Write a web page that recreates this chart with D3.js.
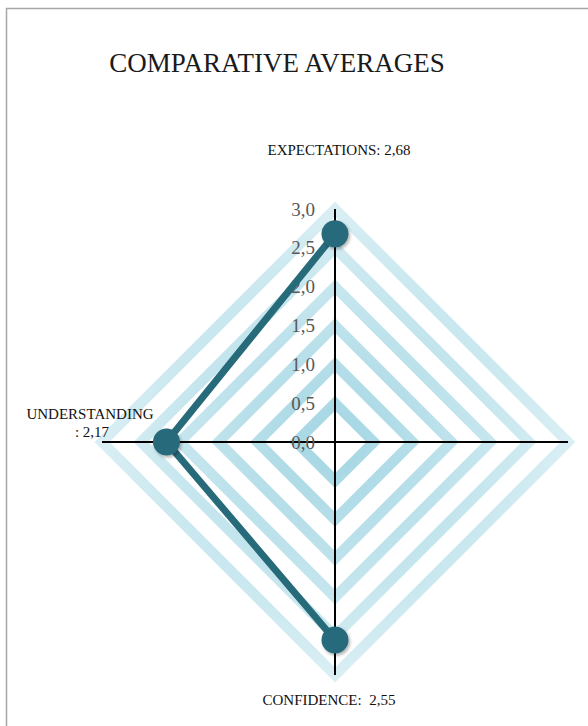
<!DOCTYPE html>
<html>
<head>
<meta charset="utf-8">
<script src="https://cdn.jsdelivr.net/npm/d3@7"></script>
<style>
  html, body { margin: 0; padding: 0; background: #fff; }
  svg { display: block; }
</style>
</head>
<body>
<script>
// ---- data ----
const title = "COMPARATIVE AVERAGES";
const categories = ["EXPECTATIONS", "", "CONFIDENCE", "UNDERSTANDING"];
const values = [2.68, null, 2.55, 2.17];
const valueLabels = ["2,68", "", "2,55", "2,17"];
const gridLevels = [0.5, 1.0, 1.5, 2.0, 2.5, 3.0];
const tickValues = [0, 0.5, 1.0, 1.5, 2.0, 2.5, 3.0];
const tickLabels = ["0,0", "0,5", "1,0", "1,5", "2,0", "2,5", "3,0"];

const W = 588, H = 726;
const cx = 335, cy = 442;
const serif = "'Liberation Serif', 'DejaVu Serif', serif";

const svg = d3.select("body").append("svg").attr("width", W).attr("height", H);
const defs = svg.append("defs");

const grad = defs.append("radialGradient")
  .attr("id", "ringGrad").attr("gradientUnits", "userSpaceOnUse")
  .attr("cx", cx).attr("cy", cy).attr("r", 245);
grad.append("stop").attr("offset", "0%").attr("stop-color", "#a3d6e3");
grad.append("stop").attr("offset", "100%").attr("stop-color", "#dcf0f5");

const shadow = defs.append("filter").attr("id", "dotShadow")
  .attr("x", "-50%").attr("y", "-50%").attr("width", "200%").attr("height", "200%");
shadow.append("feDropShadow").attr("dx", 1.5).attr("dy", 2).attr("stdDeviation", 1.5)
  .attr("flood-color", "#000").attr("flood-opacity", 0.3);

// frame
svg.append("path")
  .attr("d", `M6.5,${H} L6.5,8.5 L${W},8.5`)
  .attr("fill", "none").attr("stroke", "#a6a6a6").attr("stroke-width", 1.5);

// title
svg.append("text").attr("x", 277).attr("y", 72)
  .attr("text-anchor", "middle")
  .attr("font-family", serif).attr("font-size", 27).attr("fill", "#1a1a1a")
  .text(title);

const r = d3.scaleLinear().domain([0, 3]).range([0, 233]);
const n = categories.length;
const angle = i => -Math.PI / 2 + i * 2 * Math.PI / n;
const px = (i, v) => cx + Math.cos(angle(i)) * r(v);
const py = (i, v) => cy + Math.sin(angle(i)) * r(v);

// grid rings
const ringLine = d3.line().curve(d3.curveLinearClosed);
svg.append("g").selectAll("path").data(gridLevels).join("path")
  .attr("d", lv => ringLine(d3.range(n).map(i => [px(i, lv), py(i, lv)])))
  .attr("fill", "none")
  .attr("stroke", "url(#ringGrad)")
  .attr("stroke-width", 10.5)
  .attr("stroke-linejoin", "miter");

// axes
svg.append("g").selectAll("line").data(d3.range(n)).join("line")
  .attr("x1", cx).attr("y1", cy)
  .attr("x2", i => px(i, 3)).attr("y2", i => py(i, 3))
  .attr("stroke", "#000").attr("stroke-width", 2);

// tick labels
svg.append("g").selectAll("text").data(tickValues).join("text")
  .attr("x", cx - 20)
  .attr("y", v => cy - r(v))
  .attr("dy", "0.35em")
  .attr("text-anchor", "end")
  .attr("font-family", serif).attr("font-size", 19).attr("fill", "#595959")
  .text((v, i) => tickLabels[i]);

// series line
const pts = values.map((v, i) => ({ v, x: v == null ? 0 : px(i, v), y: v == null ? 0 : py(i, v) }));
const loop = pts.concat([pts[0]]);
svg.append("path")
  .attr("d", d3.line().defined(d => d.v != null).x(d => d.x).y(d => d.y)(loop))
  .attr("fill", "none").attr("stroke", "#276b7b").attr("stroke-width", 7)
  .attr("stroke-linejoin", "round");

// markers
svg.append("g").selectAll("circle").data(pts.filter(d => d.v != null)).join("circle")
  .attr("cx", d => d.x).attr("cy", d => d.y).attr("r", 13.5)
  .attr("fill", "#276b7b").attr("filter", "url(#dotShadow)");

// category data labels
const lbl = svg.append("g").attr("font-family", serif).attr("font-size", 15).attr("fill", "#111")
  .attr("text-anchor", "middle");
lbl.append("text").attr("x", cx + 4).attr("y", cy - r(3) - 54)
  .text(`${categories[0]}: ${valueLabels[0]}`);
lbl.append("text").attr("x", cx - 6).attr("y", cy + r(3) + 30)
  .attr("xml:space", "preserve")
  .text(`${categories[2]}:  ${valueLabels[2]}`);
const u = lbl.append("text").attr("x", 90).attr("y", cy - 23);
u.append("tspan").attr("x", 90).text(categories[3]);
u.append("tspan").attr("x", 92).attr("dy", 18).text(`: ${valueLabels[3]}`);
</script>
</body>
</html>
